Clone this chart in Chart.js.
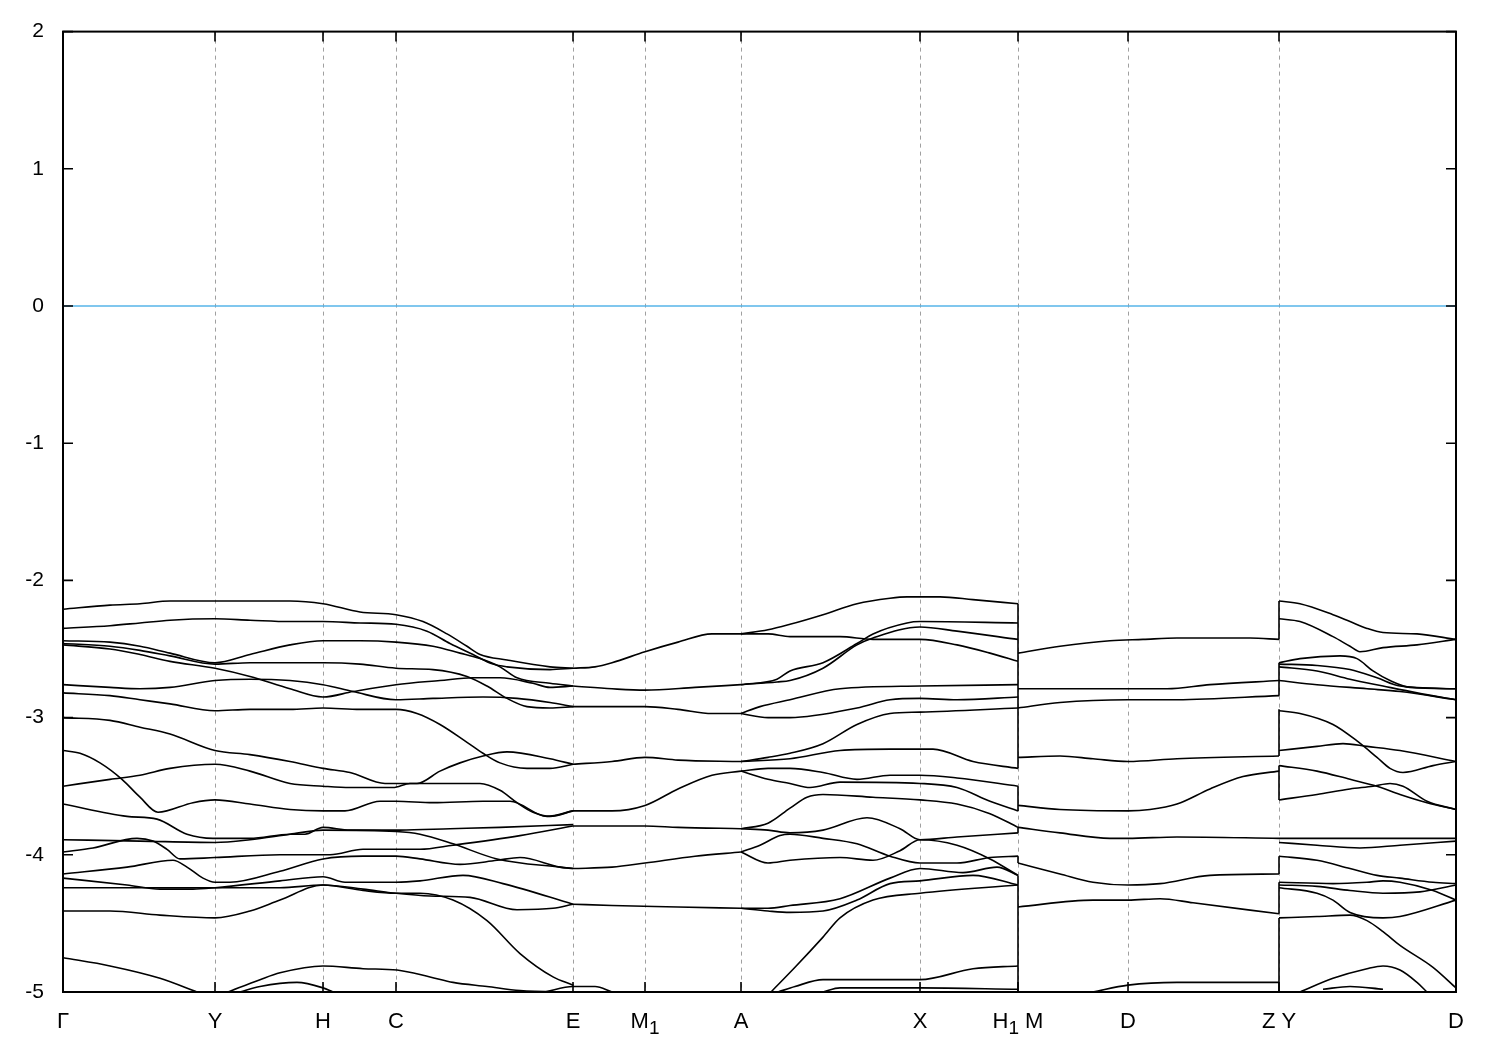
<!DOCTYPE html>
<html>
<head>
<meta charset="utf-8">
<script src="https://cdn.jsdelivr.net/npm/chart.js@4.4.0/dist/chart.umd.min.js"></script>
<style>
  body { margin: 0; background: #fff; }
  #wrap { width: 1500px; height: 1050px; }
</style>
</head>
<body>
<div id="wrap"><canvas id="bands" width="1500" height="1050"></canvas></div>
<script>
// high symmetry points along the k path ("_" marks a subscript)
const kTicks = [0, 1.52, 2.60, 3.33, 5.10, 5.82, 6.78, 8.57, 9.55, 10.65, 12.16, 13.93];
const kLabels = ['Γ', 'Y', 'H', 'C', 'E', 'M_1', 'A', 'X', 'H_1 M', 'D', 'Z Y', 'D'];
const energyTicks = [-5, -4, -3, -2, -1, 0, 1, 2];

// Γ -> Y -> H -> C -> E
const bandsGE = [
  [[0,-2.21],[0.47,-2.18],[0.77,-2.17],[1.07,-2.15],[1.52,-2.15],[1.87,-2.15],[2.27,-2.15],[2.60,-2.17],[2.97,-2.23],[3.33,-2.25],[3.60,-2.30],[3.84,-2.39],[4.04,-2.48],[4.17,-2.54],[4.44,-2.58],[4.87,-2.63],[5.10,-2.64]],
  [[0,-2.35],[0.47,-2.33],[0.77,-2.31],[1.07,-2.29],[1.52,-2.28],[1.87,-2.29],[2.27,-2.30],[2.60,-2.30],[2.97,-2.31],[3.33,-2.32],[3.64,-2.37],[3.87,-2.46],[4.10,-2.54],[4.30,-2.61],[4.44,-2.63],[4.87,-2.65],[5.10,-2.64]],
  [[0,-2.44],[0.47,-2.45],[0.77,-2.48],[1.07,-2.53],[1.52,-2.60],[1.87,-2.54],[2.27,-2.47],[2.60,-2.44],[2.97,-2.44],[3.33,-2.45],[3.70,-2.48],[3.97,-2.53],[4.17,-2.57],[4.37,-2.63],[4.54,-2.71],[4.87,-2.75],[5.10,-2.77]],
  [[0,-2.46],[0.47,-2.48],[0.77,-2.51],[1.07,-2.55],[1.52,-2.61],[1.87,-2.60],[2.27,-2.60],[2.60,-2.60],[2.97,-2.61],[3.33,-2.64],[3.70,-2.65],[4.04,-2.70],[4.24,-2.77],[4.44,-2.86],[4.64,-2.92],[4.87,-2.93],[5.10,-2.92]],
  [[0,-2.47],[0.47,-2.50],[0.77,-2.54],[1.07,-2.59],[1.52,-2.64],[1.87,-2.70],[2.27,-2.79],[2.60,-2.85],[2.90,-2.81],[3.33,-2.76],[3.77,-2.73],[4.10,-2.71],[4.37,-2.71],[4.70,-2.75],[4.87,-2.78],[5.10,-2.77]],
  [[0,-2.76],[0.47,-2.78],[0.77,-2.79],[1.07,-2.78],[1.52,-2.73],[1.87,-2.72],[2.27,-2.73],[2.60,-2.76],[2.90,-2.81],[3.33,-2.87],[3.70,-2.86],[4.20,-2.85],[4.54,-2.86],[4.87,-2.89],[5.10,-2.92]],
  [[0,-2.82],[0.47,-2.84],[0.77,-2.87],[1.07,-2.90],[1.52,-2.95],[1.87,-2.94],[2.27,-2.94],[2.60,-2.93],[2.97,-2.94],[3.33,-2.94],[3.54,-2.97],[3.77,-3.05],[4.04,-3.18],[4.20,-3.26],[4.37,-3.33],[4.64,-3.37],[4.87,-3.37],[5.10,-3.34]],
  [[0,-3.00],[0.47,-3.02],[0.77,-3.07],[1.07,-3.12],[1.52,-3.24],[1.87,-3.27],[2.27,-3.32],[2.60,-3.37],[2.87,-3.40],[3.22,-3.48],[3.33,-3.48],[3.54,-3.48],[3.77,-3.39],[3.97,-3.33],[4.20,-3.28],[4.44,-3.25],[4.87,-3.30],[5.10,-3.34]],
  [[0,-3.24],[0.17,-3.26],[0.37,-3.33],[0.59,-3.45],[0.77,-3.58],[0.95,-3.69],[1.30,-3.62],[1.52,-3.60],[1.87,-3.63],[2.27,-3.67],[2.60,-3.68],[2.82,-3.68],[3.17,-3.61],[3.33,-3.61],[3.70,-3.62],[4.20,-3.61],[4.47,-3.61],[4.84,-3.72],[5.10,-3.68]],
  [[0,-3.50],[0.47,-3.45],[0.77,-3.42],[1.07,-3.37],[1.52,-3.34],[1.87,-3.39],[2.27,-3.48],[2.60,-3.50],[2.87,-3.51],[3.30,-3.51],[3.47,-3.48],[3.70,-3.48],[4.17,-3.48],[4.37,-3.53],[4.54,-3.62],[4.70,-3.69],[4.87,-3.72],[5.10,-3.68]],
  [[0,-3.63],[0.64,-3.72],[0.94,-3.74],[1.24,-3.85],[1.50,-3.88],[1.87,-3.88],[2.27,-3.85],[2.42,-3.85],[2.60,-3.80],[2.87,-3.82],[3.37,-3.82],[3.87,-3.81],[4.37,-3.80],[5.10,-3.78]],
  [[0,-3.89],[0.77,-3.90],[1.52,-3.91],[1.87,-3.89],[2.27,-3.85],[2.60,-3.82],[3.33,-3.83],[3.57,-3.85],[3.90,-3.92],[4.34,-4.03],[4.97,-4.09],[5.10,-4.10]],
  [[0,-3.98],[0.30,-3.95],[0.74,-3.88],[0.90,-3.90],[1.04,-3.96],[1.17,-4.03],[1.52,-4.02],[2.17,-4.00],[2.67,-4.00],[3.00,-3.96],[3.33,-3.96],[3.57,-3.96],[3.90,-3.93],[4.57,-3.86],[5.10,-3.79]],
  [[0,-4.14],[0.64,-4.09],[1.10,-4.04],[1.24,-4.09],[1.40,-4.17],[1.52,-4.20],[1.67,-4.20],[2.17,-4.12],[2.60,-4.03],[3.00,-4.01],[3.33,-4.01],[3.57,-4.03],[3.97,-4.07],[4.34,-4.04],[4.57,-4.02],[4.97,-4.09],[5.10,-4.10]],
  [[0,-4.17],[0.64,-4.22],[0.97,-4.25],[1.30,-4.25],[1.52,-4.24],[2.17,-4.19],[2.60,-4.16],[2.82,-4.20],[3.33,-4.20],[3.57,-4.19],[4.00,-4.15],[4.40,-4.21],[5.10,-4.36]],
  [[0,-4.24],[1.52,-4.24],[2.17,-4.24],[2.60,-4.22],[3.00,-4.25],[3.33,-4.28],[3.67,-4.30],[4.07,-4.31],[4.54,-4.40],[4.90,-4.39],[5.10,-4.36]],
  [[0,-4.41],[0.47,-4.41],[0.97,-4.44],[1.52,-4.46],[1.87,-4.41],[2.17,-4.33],[2.60,-4.22],[3.00,-4.26],[3.33,-4.28],[3.57,-4.28],[3.90,-4.33],[4.24,-4.48],[4.57,-4.72],[4.90,-4.89],[5.10,-4.95]],
  [[0,-4.75],[0.47,-4.81],[0.97,-4.90],[1.34,-5.00]],
  [[1.65,-5.00],[1.97,-4.91],[2.17,-4.86],[2.60,-4.81],[3.00,-4.83],[3.34,-4.84],[3.67,-4.89],[3.90,-4.93],[4.24,-4.96],[4.57,-4.99],[5.10,-5.00]],
  [[1.77,-5.00],[1.97,-4.96],[2.34,-4.93],[2.60,-4.97],[2.70,-5.00]],
  [[4.82,-5.00],[5.10,-4.96],[5.32,-4.96],[5.49,-5.00]]
];

// E -> M1 -> A
const bandsEA = [
  [[5.10,-2.64],[5.32,-2.63],[5.49,-2.60],[5.82,-2.52],[6.15,-2.45],[6.49,-2.39],[6.78,-2.39]],
  [[5.10,-2.77],[5.49,-2.79],[5.82,-2.80],[6.32,-2.78],[6.78,-2.76]],
  [[5.10,-2.92],[5.82,-2.92],[6.15,-2.94],[6.49,-2.97],[6.78,-2.97]],
  [[5.10,-3.34],[5.49,-3.32],[5.82,-3.29],[6.15,-3.31],[6.78,-3.32]],
  [[5.10,-3.68],[5.49,-3.68],[5.82,-3.64],[6.15,-3.52],[6.49,-3.42],[6.78,-3.39]],
  [[5.10,-3.79],[5.82,-3.79],[6.15,-3.80],[6.78,-3.81]],
  [[5.10,-4.10],[5.49,-4.09],[5.82,-4.06],[6.32,-4.01],[6.78,-3.98]],
  [[5.10,-4.36],[5.49,-4.37],[6.15,-4.38],[6.78,-4.39]]
];

// A -> X -> H1
const bandsAH = [
  [[6.78,-2.39],[7.05,-2.36],[7.27,-2.32],[7.60,-2.25],[7.94,-2.17],[8.27,-2.13],[8.44,-2.12],[8.77,-2.12],[9.10,-2.14],[9.55,-2.17]],
  [[6.78,-2.39],[7.05,-2.39],[7.27,-2.41],[7.77,-2.41],[8.10,-2.43],[8.57,-2.43],[8.94,-2.47],[9.27,-2.53],[9.55,-2.59]],
  [[6.78,-2.76],[7.14,-2.72],[7.27,-2.66],[7.60,-2.60],[7.94,-2.46],[8.10,-2.39],[8.44,-2.31],[8.57,-2.30],[9.55,-2.31]],
  [[6.78,-2.76],[7.14,-2.74],[7.27,-2.73],[7.60,-2.64],[7.94,-2.47],[8.10,-2.42],[8.57,-2.34],[8.94,-2.37],[9.55,-2.43]],
  [[6.78,-2.97],[6.97,-2.92],[7.27,-2.87],[7.77,-2.79],[8.57,-2.77],[9.55,-2.76]],
  [[6.78,-2.97],[7.05,-3.00],[7.27,-3.00],[7.94,-2.93],[8.27,-2.87],[8.57,-2.86],[8.94,-2.87],[9.55,-2.85]],
  [[6.78,-3.32],[7.05,-3.29],[7.27,-3.26],[7.60,-3.19],[7.94,-3.05],[8.27,-2.97],[8.57,-2.96],[9.55,-2.93]],
  [[6.78,-3.32],[7.27,-3.30],[7.77,-3.24],[8.27,-3.23],[8.70,-3.23],[9.10,-3.32],[9.55,-3.37]],
  [[6.78,-3.39],[7.05,-3.37],[7.27,-3.37],[7.60,-3.40],[7.94,-3.45],[8.27,-3.42],[8.57,-3.42],[8.94,-3.44],[9.55,-3.50]],
  [[6.78,-3.39],[7.05,-3.45],[7.27,-3.48],[7.47,-3.51],[7.77,-3.47],[8.57,-3.48],[8.94,-3.51],[9.27,-3.61],[9.55,-3.68]],
  [[6.78,-3.81],[7.05,-3.77],[7.27,-3.66],[7.44,-3.58],[7.60,-3.56],[8.10,-3.58],[8.57,-3.60],[8.94,-3.63],[9.27,-3.70],[9.55,-3.80]],
  [[6.78,-3.81],[7.05,-3.82],[7.27,-3.84],[7.60,-3.82],[8.04,-3.73],[8.37,-3.81],[8.57,-3.89],[8.94,-3.87],[9.55,-3.84]],
  [[6.78,-3.98],[6.97,-3.93],[7.17,-3.86],[7.27,-3.85],[7.60,-3.88],[7.94,-3.92],[8.27,-4.01],[8.57,-4.06],[8.94,-4.06],[9.27,-4.02],[9.55,-4.01]],
  [[6.78,-3.98],[7.05,-4.06],[7.27,-4.04],[7.77,-4.02],[8.10,-4.04],[8.37,-3.97],[8.57,-3.89],[8.94,-3.93],[9.27,-4.03],[9.55,-4.15]],
  [[6.78,-4.39],[7.05,-4.39],[7.27,-4.37],[7.77,-4.32],[8.27,-4.17],[8.57,-4.10],[9.00,-4.13],[9.34,-4.09],[9.55,-4.15]],
  [[6.78,-4.39],[7.05,-4.41],[7.27,-4.42],[7.60,-4.41],[7.94,-4.33],[8.27,-4.21],[8.57,-4.19],[9.10,-4.15],[9.55,-4.22]],
  [[7.08,-5.00],[7.32,-4.82],[7.60,-4.60],[7.77,-4.46],[8.10,-4.33],[8.57,-4.28],[9.55,-4.22]],
  [[7.15,-5.00],[7.32,-4.96],[7.60,-4.91],[8.57,-4.91],[9.10,-4.83],[9.55,-4.81]],
  [[7.60,-5.00],[7.77,-4.97],[8.57,-4.97],[9.55,-4.98]]
];

// M -> D -> Z
const bandsMZ = [
  [[9.55,-2.53],[9.97,-2.48],[10.47,-2.44],[10.80,-2.43],[11.14,-2.42],[11.87,-2.42],[12.16,-2.43]],
  [[9.55,-2.79],[10.65,-2.79],[11.04,-2.79],[11.47,-2.76],[12.16,-2.73]],
  [[9.55,-2.93],[9.97,-2.89],[10.65,-2.87],[11.14,-2.87],[12.16,-2.84]],
  [[9.55,-3.29],[9.97,-3.28],[10.30,-3.30],[10.65,-3.32],[11.14,-3.30],[12.16,-3.28]],
  [[9.55,-3.64],[9.97,-3.67],[10.65,-3.68],[10.87,-3.67],[11.14,-3.63],[11.47,-3.52],[11.80,-3.43],[12.16,-3.39]],
  [[9.55,-3.80],[9.97,-3.84],[10.47,-3.88],[10.65,-3.88],[11.14,-3.87],[12.16,-3.88]],
  [[9.55,-4.06],[9.97,-4.14],[10.30,-4.20],[10.65,-4.22],[10.97,-4.21],[11.47,-4.15],[12.16,-4.14]],
  [[9.55,-4.38],[10.30,-4.33],[10.65,-4.33],[10.97,-4.32],[11.30,-4.35],[12.16,-4.43]],
  [[10.30,-5.00],[10.65,-4.95],[11.14,-4.93],[12.16,-4.93]]
];

// Y -> D
const bandsYD = [
  [[12.16,-2.15],[12.37,-2.17],[12.70,-2.25],[12.87,-2.30],[13.04,-2.35],[13.20,-2.38],[13.54,-2.39],[13.93,-2.43]],
  [[12.16,-2.28],[12.37,-2.30],[12.70,-2.41],[12.87,-2.48],[12.97,-2.52],[13.20,-2.49],[13.54,-2.47],[13.93,-2.43]],
  [[12.16,-2.60],[12.37,-2.57],[12.77,-2.55],[12.94,-2.57],[13.10,-2.66],[13.27,-2.73],[13.47,-2.78],[13.93,-2.79]],
  [[12.16,-2.61],[12.54,-2.62],[12.87,-2.65],[13.14,-2.71],[13.37,-2.77],[13.93,-2.79]],
  [[12.16,-2.63],[12.54,-2.66],[12.87,-2.72],[13.20,-2.77],[13.54,-2.82],[13.93,-2.87]],
  [[12.16,-2.73],[12.54,-2.76],[13.04,-2.79],[13.37,-2.81],[13.93,-2.87]],
  [[12.16,-2.95],[12.37,-2.97],[12.70,-3.05],[12.94,-3.17],[13.14,-3.29],[13.27,-3.37],[13.40,-3.40],[13.70,-3.35],[13.93,-3.32]],
  [[12.16,-3.24],[12.54,-3.21],[12.80,-3.19],[13.04,-3.21],[13.37,-3.24],[13.93,-3.32]],
  [[12.16,-3.35],[12.54,-3.39],[12.87,-3.45],[13.14,-3.50],[13.37,-3.56],[13.64,-3.62],[13.93,-3.67]],
  [[12.16,-3.60],[12.54,-3.56],[12.87,-3.52],[13.10,-3.50],[13.27,-3.48],[13.40,-3.50],[13.64,-3.61],[13.93,-3.67]],
  [[12.16,-3.88],[13.93,-3.88]],
  [[12.16,-3.91],[12.54,-3.93],[12.97,-3.95],[13.37,-3.93],[13.93,-3.90]],
  [[12.16,-4.01],[12.54,-4.04],[12.87,-4.10],[13.14,-4.15],[13.37,-4.17],[13.70,-4.20],[13.93,-4.21]],
  [[12.16,-4.20],[12.70,-4.21],[13.04,-4.20],[13.20,-4.19],[13.37,-4.20],[13.70,-4.26],[13.93,-4.33]],
  [[12.16,-4.22],[12.54,-4.23],[12.87,-4.26],[13.20,-4.28],[13.57,-4.27],[13.93,-4.22]],
  [[12.16,-4.24],[12.54,-4.28],[12.70,-4.33],[12.87,-4.42],[13.20,-4.46],[13.37,-4.45],[13.93,-4.33]],
  [[12.16,-4.46],[12.54,-4.45],[12.87,-4.44],[13.04,-4.48],[13.20,-4.56],[13.37,-4.66],[13.70,-4.82],[13.93,-4.97]],
  [[12.37,-5.00],[12.70,-4.90],[13.04,-4.83],[13.20,-4.81],[13.37,-4.84],[13.54,-4.93],[13.64,-5.00]],
  [[12.60,-4.98],[12.87,-4.96],[13.20,-4.98]]
];

// vertical jumps at the path breaks (energy from, energy to)
const jumpsHM = [[-2.17,-3.37],[-3.50,-3.68],[-3.80,-3.84],[-4.01,-4.06],[-4.15,-5.00]];
const jumpsZY = [[-2.15,-2.43],[-2.60,-2.84],[-2.94,-3.28],[-3.35,-3.60],[-4.01,-4.14],[-4.20,-4.43],[-4.46,-5.00]];

const fermiLevel = 0;

function toPts(arr) {
    return arr.map(p => ({ x: p[0], y: p[1] }));
}

const datasets = [];
[...bandsGE, ...bandsEA, ...bandsAH, ...bandsMZ, ...bandsYD].forEach(b => {
    datasets.push({
        data: toPts(b),
        borderColor: '#000',
        borderWidth: 1.6,
        pointRadius: 0,
        cubicInterpolationMode: 'monotone',
        fill: false
    });
});
const jumpAt = [[kTicks[8], jumpsHM], [kTicks[10], jumpsZY]];
jumpAt.forEach(([k, list]) => {
    list.forEach(j => {
        datasets.push({
            data: toPts([[k, j[0]], [k, j[1]]]),
            borderColor: '#000',
            borderWidth: 1.6,
            pointRadius: 0,
            tension: 0,
            fill: false
        });
    });
});
datasets.push({
    data: toPts([[kTicks[0], fermiLevel], [kTicks[kTicks.length - 1], fermiLevel]]),
    borderColor: '#56b4e9',
    borderWidth: 1.6,
    pointRadius: 0,
    tension: 0,
    fill: false
});

// k label with gnuplot-like subscripts: "M_1" -> M and a lowered 1
function drawKLabel(ctx, text, cx, baseline) {
    const parts = [];
    text.split(/(_\S)/).forEach(s => {
        if (!s) return;
        if (s[0] === '_') parts.push({ t: s.slice(1), sub: true });
        else parts.push({ t: s, sub: false });
    });
    const mainFont = '22px "Liberation Sans"';
    const subFont = '19px "Liberation Sans"';
    let total = 0;
    parts.forEach(p => {
        ctx.font = p.sub ? subFont : mainFont;
        p.w = ctx.measureText(p.t).width;
        total += p.w;
    });
    let xPos = cx - total / 2;
    parts.forEach(p => {
        ctx.font = p.sub ? subFont : mainFont;
        ctx.fillText(p.t, xPos, baseline + (p.sub ? 6 : 0));
        xPos += p.w;
    });
}

// gnuplot style frame, dashed k-point lines, inward ticks, k labels
const framePlugin = {
    id: 'frame',
    beforeDatasetsDraw(chart) {
        const { ctx, chartArea: a, scales: { x } } = chart;
        ctx.save();
        ctx.strokeStyle = '#a0a0a0';
        ctx.lineWidth = 1;
        ctx.setLineDash([4, 4]);
        kTicks.forEach((k, i) => {
            if (i === 0 || i === kTicks.length - 1) return;
            const px = Math.round(x.getPixelForValue(k)) + 0.5;
            ctx.beginPath();
            ctx.moveTo(px, a.top);
            ctx.lineTo(px, a.bottom);
            ctx.stroke();
        });
        ctx.restore();
    },
    afterDatasetsDraw(chart) {
        const { ctx, chartArea: a, scales: { x, y } } = chart;
        ctx.save();
        ctx.strokeStyle = '#000';
        ctx.lineWidth = 2;
        ctx.strokeRect(a.left, a.top, a.right - a.left, a.bottom - a.top);
        ctx.lineWidth = 1.6;
        energyTicks.forEach(v => {
            const py = y.getPixelForValue(v);
            ctx.beginPath();
            ctx.moveTo(a.left, py); ctx.lineTo(a.left + 10, py);
            ctx.moveTo(a.right, py); ctx.lineTo(a.right - 10, py);
            ctx.stroke();
        });
        kTicks.forEach(k => {
            const px = x.getPixelForValue(k);
            ctx.beginPath();
            ctx.moveTo(px, a.bottom); ctx.lineTo(px, a.bottom - 10);
            ctx.moveTo(px, a.top); ctx.lineTo(px, a.top + 10);
            ctx.stroke();
        });
        ctx.fillStyle = '#000';
        ctx.textBaseline = 'alphabetic';
        ctx.textAlign = 'left';
        kTicks.forEach((k, i) => {
            drawKLabel(ctx, kLabels[i], x.getPixelForValue(k), a.bottom + 36);
        });
        ctx.restore();
    }
};

new Chart(document.getElementById('bands'), {
    type: 'line',
    data: { datasets: datasets },
    options: {
        responsive: false,
        animation: false,
        devicePixelRatio: 1,
        layout: { padding: { top: 29, right: 44, left: 0, bottom: 0 } },
        plugins: {
            legend: { display: false },
            tooltip: { enabled: false }
        },
        scales: {
            x: {
                type: 'linear',
                min: kTicks[0],
                max: kTicks[kTicks.length - 1],
                afterFit: s => { s.height = 58; },
                ticks: { display: false },
                grid: { display: false, drawTicks: false },
                border: { display: false }
            },
            y: {
                type: 'linear',
                min: -5,
                max: 2,
                afterFit: s => { s.width = 63; },
                ticks: {
                    stepSize: 1,
                    color: '#000',
                    font: { family: 'Liberation Sans', size: 21 },
                    padding: 19
                },
                grid: { display: false, drawTicks: false },
                border: { display: false }
            }
        }
    },
    plugins: [framePlugin]
});
</script>
</body>
</html>
